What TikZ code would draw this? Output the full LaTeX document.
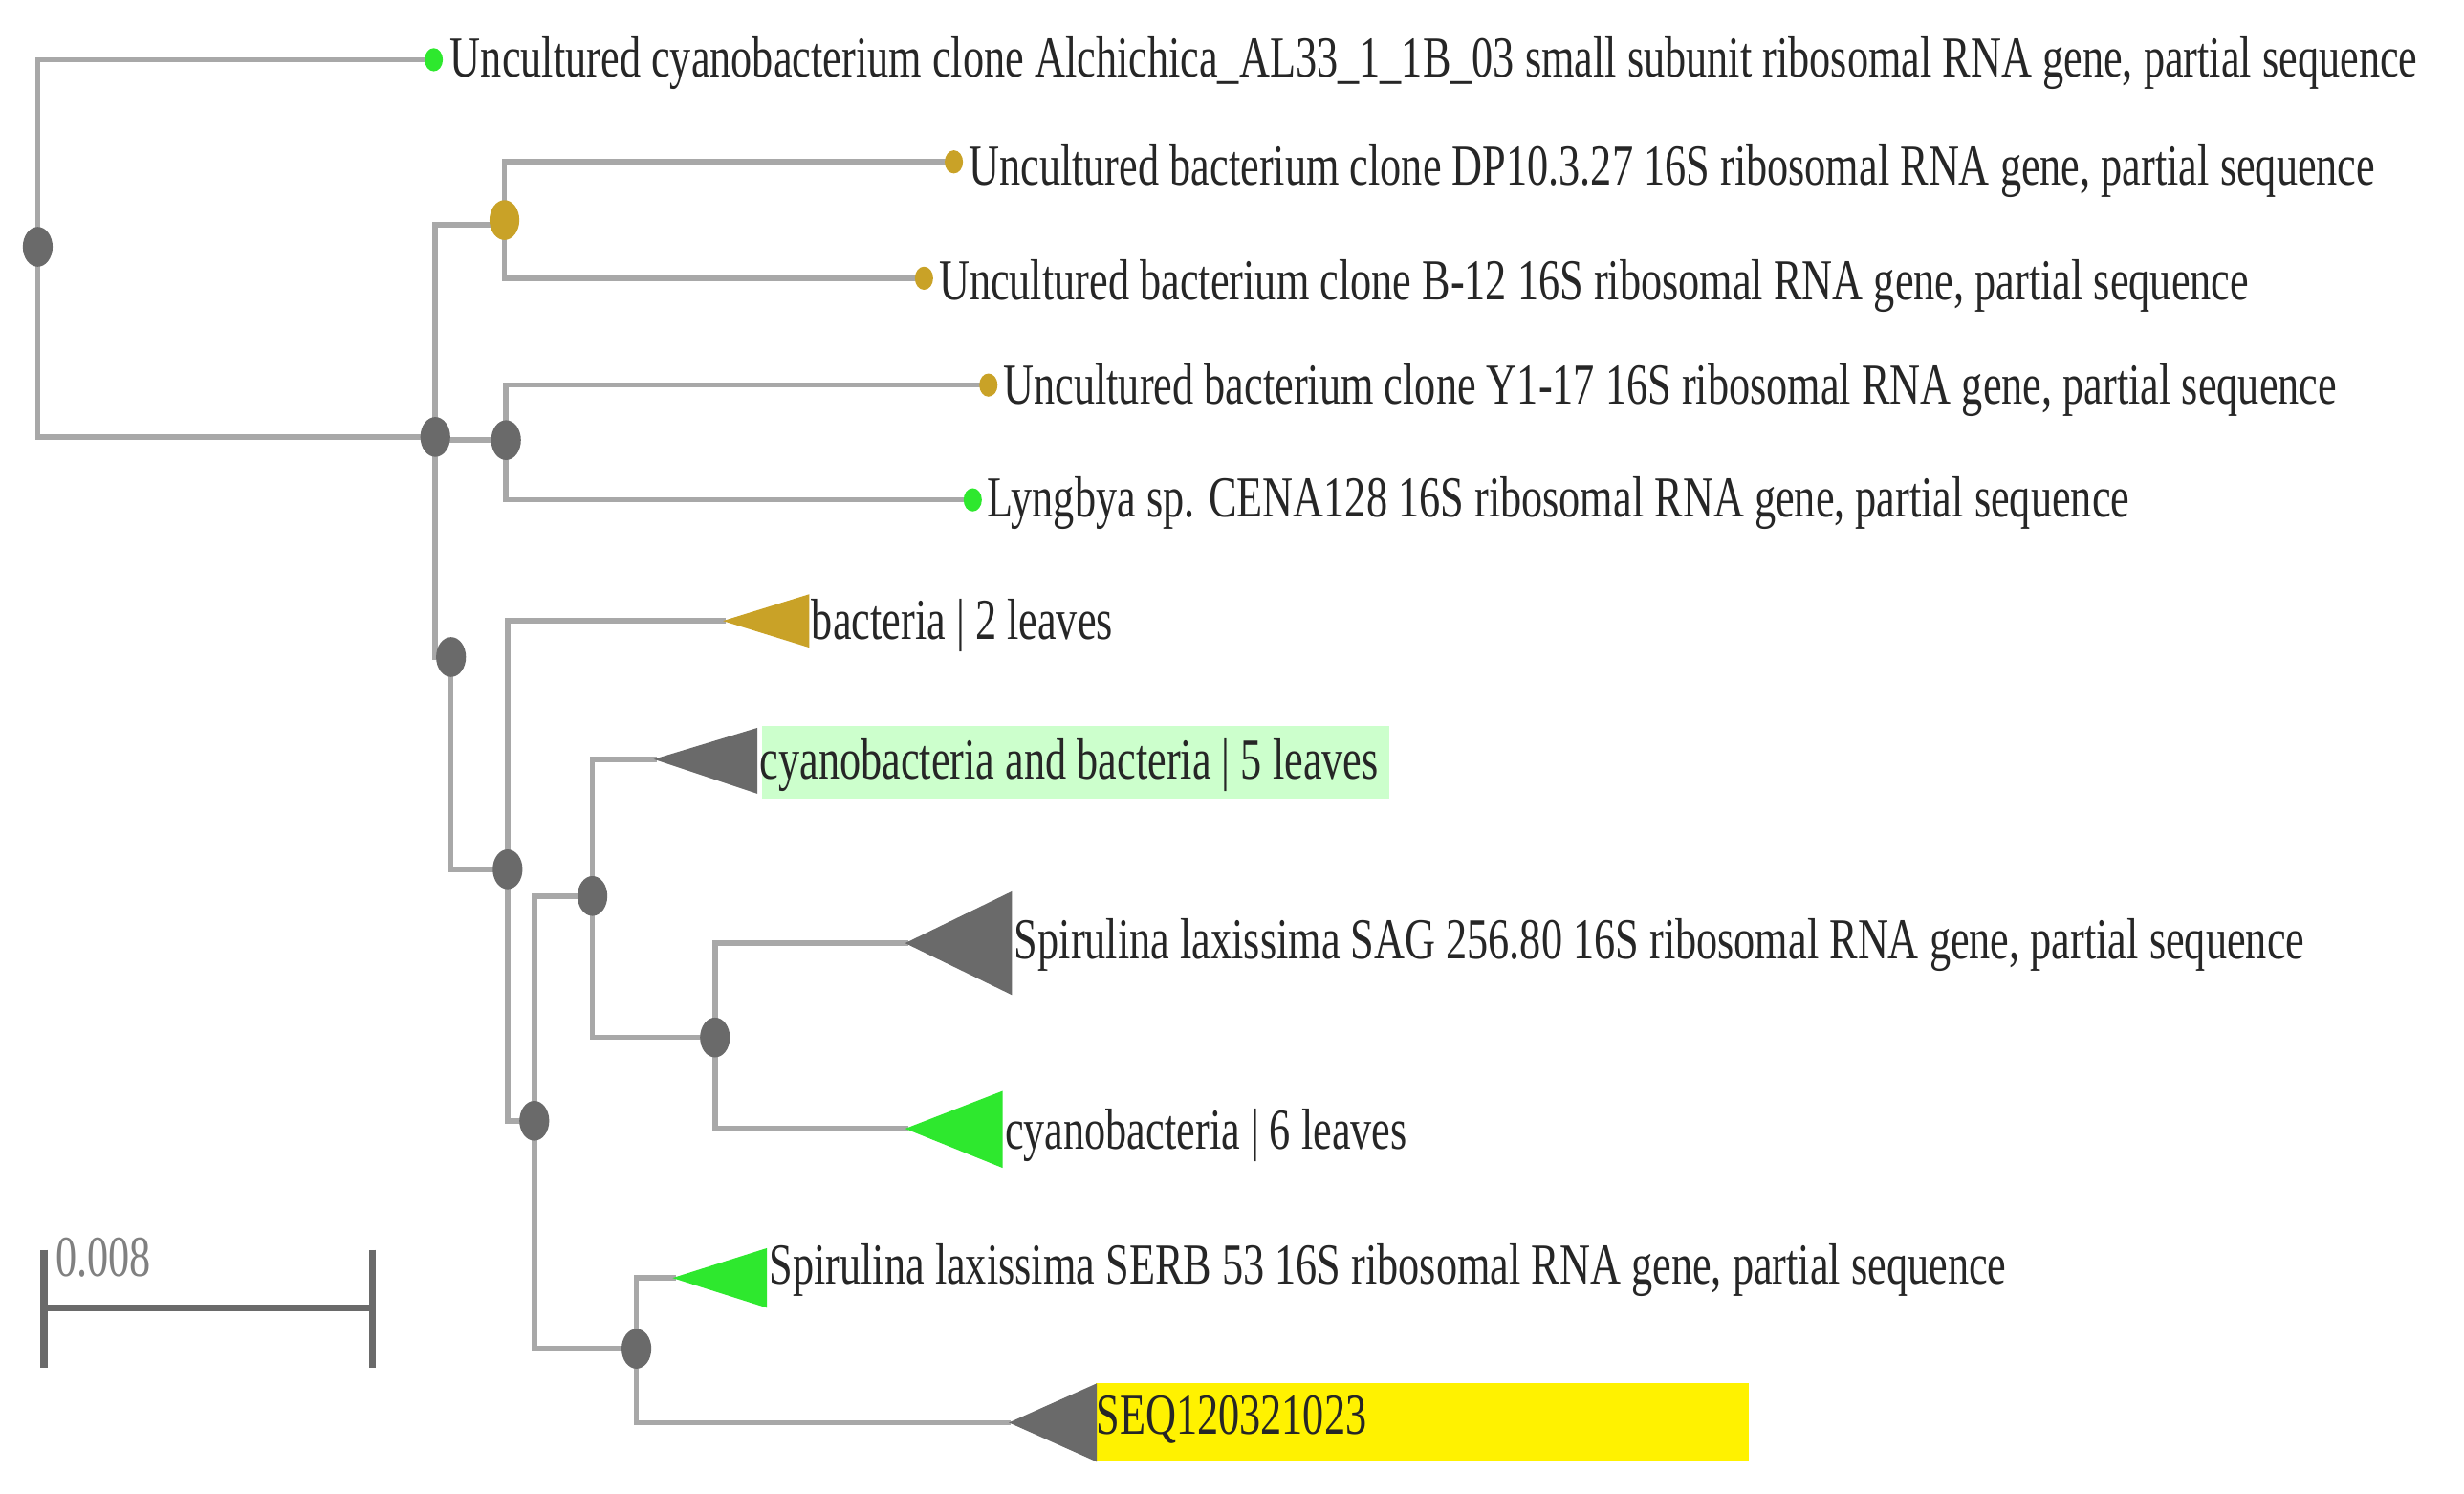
\documentclass[tikz,border=0pt]{standalone}
\usepackage{fontspec}
\usetikzlibrary{shapes.geometric}
\setmainfont{Liberation Serif}
\definecolor{ln}{HTML}{A8A8A8}
\definecolor{nd}{HTML}{6A6A6A}
\definecolor{gd}{HTML}{C9A227}
\definecolor{gr}{HTML}{2EE82E}
\newcommand{\lab}[1]{\scalebox{0.73}[1]{#1}}
\begin{document}
\begin{tikzpicture}[x=0.016667cm,y=-0.016667cm,
  br/.style={draw=ln,line width=1.6pt},
  inode/.style={ellipse,fill=nd,minimum width=9pt,minimum height=12pt,inner sep=0},
  leafdot/.style={ellipse,inner sep=0,minimum width=5.5pt,minimum height=7pt},
  lbl/.style={anchor=west,inner sep=1pt,text=black!85,font=\fontsize{17.5}{20}\selectfont}]
\useasboundingbox (0,0) rectangle (1568,950);
% branches
\draw[br] (276,38) -| (24,278) -- (277,278);
\draw[br] (321,143) -| (277,418) -- (287,418);
\draw[br] (277,280) -- (322,280);
\draw[br] (607,103) -| (321,177) -- (588,177);
\draw[br] (629,245) -| (322,318) -- (619,318);
\draw[br] (287,418) |- (323,553);
\draw[br] (462,395) -| (323,713) -- (340,713);
\draw[br] (418,483) -| (377,660) -- (455,660);
\draw[br] (340,713) |- (377,570) (340,713) |- (405,858);
\draw[br] (578,600) -| (455,718) -- (578,718);
\draw[br] (430,813) -| (405,905) -- (643,905);
% highlights
\fill[green!20] (485,462) rectangle (884,508);
\fill[yellow] (697,880) rectangle (1113,930);
% triangles
\fill[gd] (460,395) -- (515,378) -- (515,412) -- cycle;
\fill[nd] (416,483) -- (482,463) -- (482,505) -- cycle;
\fill[nd] (576,600) -- (644,567) -- (644,633) -- cycle;
\fill[gr] (576,718) -- (638,694) -- (638,743) -- cycle;
\fill[gr] (428,813) -- (488,794) -- (488,832) -- cycle;
\fill[nd] (642,905) -- (698,880) -- (698,930) -- cycle;
% internal nodes
\node[inode] (r) at (24,157) {};
\node[inode,fill=gd] (g) at (321,140) {};
\node[inode] (a) at (277,278) {};
\node[inode] (b) at (322,280) {};
\node[inode] (c) at (287,418) {};
\node[inode] (d) at (323,553) {};
\node[inode] (f) at (377,570) {};
\node[inode] (gg) at (455,660) {};
\node[inode] (e) at (340,713) {};
\node[inode] (h) at (405,858) {};
% leaf dots
\node[leafdot,fill=gr] (l1) at (276,38) {};
\node[leafdot,fill=gd] (l2) at (607,103) {};
\node[leafdot,fill=gd] (l3) at (588,177) {};
\node[leafdot,fill=gd] (l4) at (629,245) {};
\node[leafdot,fill=gr] (l5) at (619,318) {};
% labels
\node[lbl] (t1) at (284,40) {\lab{Uncultured cyanobacterium clone Alchichica\_AL33\_1\_1B\_03 small subunit ribosomal RNA gene, partial sequence}};
\node[lbl] (t2) at (614,109) {\lab{Uncultured bacterium clone DP10.3.27 16S ribosomal RNA gene, partial sequence}};
\node[lbl] (t3) at (595,182) {\lab{Uncultured bacterium clone B-12 16S ribosomal RNA gene, partial sequence}};
\node[lbl] (t4) at (636,248) {\lab{Uncultured bacterium clone Y1-17 16S ribosomal RNA gene, partial sequence}};
\node[lbl] (t5) at (626,320) {\lab{Lyngbya sp. CENA128 16S ribosomal RNA gene, partial sequence}};
\node[lbl] (t6) at (514,398) {\lab{bacteria | 2 leaves}};
\node[lbl] (t7) at (481,487) {\lab{cyanobacteria and bacteria | 5 leaves}};
\node[lbl] (t8) at (643,601) {\lab{Spirulina laxissima SAG 256.80 16S ribosomal RNA gene, partial sequence}};
\node[lbl] (t9) at (637,722) {\lab{cyanobacteria | 6 leaves}};
\node[lbl] (t10) at (487,808) {\lab{Spirulina laxissima SERB 53 16S ribosomal RNA gene, partial sequence}};
\node[lbl] (t11) at (695,903) {\lab{SEQ120321023}};
% scale bar
\draw[draw=nd,line width=2.2pt] (28,795) -- (28,870) (28,832) -- (237,832) (237,795) -- (237,870);
\node[lbl,text=gray] (sb) at (33,800) {\lab{0.008}};
\end{tikzpicture}
\end{document}
